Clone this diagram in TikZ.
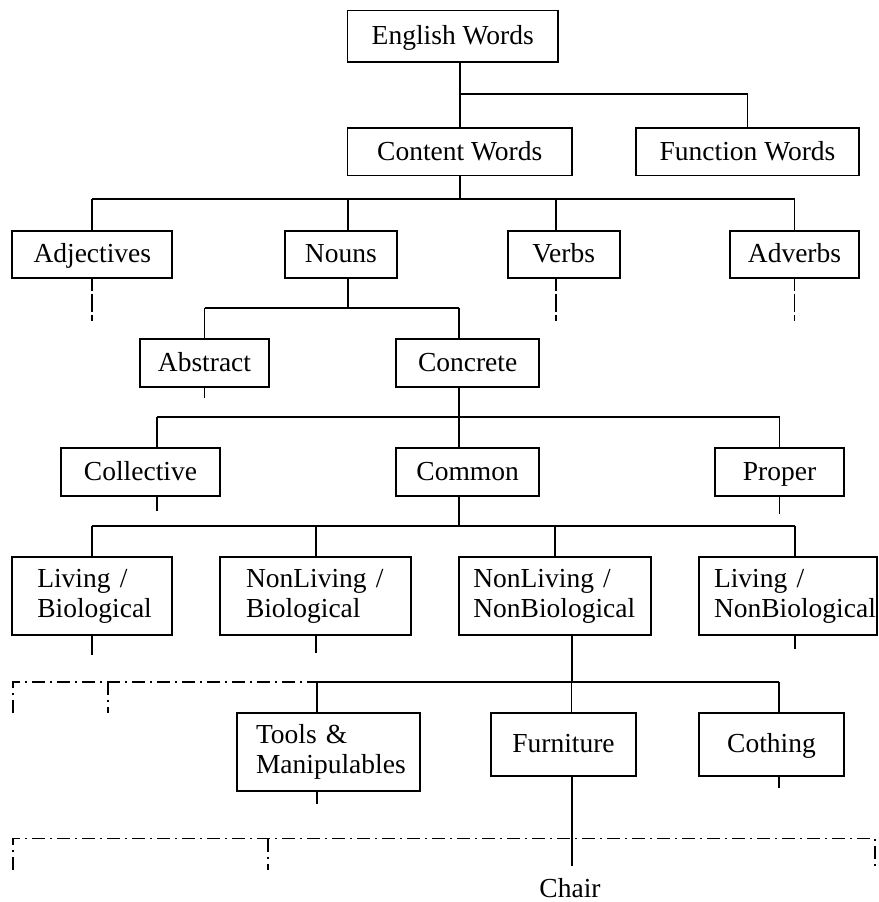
\documentclass[tikz,border=0pt]{standalone}
\usepackage{fontspec}
\setmainfont{Liberation Serif}
\hyphenpenalty=10000
\exhyphenpenalty=10000
\begin{document}
\begin{tikzpicture}[x=1pt,y=-1pt,
  conn/.style={line width=1.9pt,draw=black},
  thinconn/.style={line width=0.9pt,draw=black},
  dd/.style={conn,dash pattern=on 13pt off 5pt on 2pt off 5pt},
  dstub/.style={conn,dash pattern=on 12pt off 3pt on 18pt off 3pt on 8pt off 3pt},
  basebox/.style={draw=black,line width=1.8pt,inner sep=0pt,font=\fontsize{27.5}{30}\selectfont},
  box/.style={basebox,text height=19pt,text depth=2pt},
  box2/.style={basebox,align=left,inner ysep=0pt},
]
\useasboundingbox (0,0) rectangle (878,902);

% boxes
\node[box,minimum width=210.5pt,minimum height=51.5pt] (ew) at (452.75,36.25) {English Words};
\node[box,minimum width=224.5pt,minimum height=47.9pt] (cw) at (459.75,151.55) {Content Words};
\node[box,minimum width=223pt,minimum height=47.9pt] (fw) at (747.5,151.55) {Function Words};
\node[box,minimum width=160pt,minimum height=47pt] (adj) at (92.3,254.2) {Adjectives};
\node[box,minimum width=111.7pt,minimum height=47pt] (nouns) at (340.85,254.2) {Nouns};
\node[box,minimum width=112pt,minimum height=47pt] (verbs) at (563.7,254.2) {Verbs};
\node[box,minimum width=129pt,minimum height=47pt] (adv) at (794.5,254.2) {Adverbs};
\node[box,minimum width=128.4pt,minimum height=47.7pt] (abs) at (204.5,362.85) {Abstract};
\node[box,minimum width=143.3pt,minimum height=47.7pt] (conc) at (467.65,362.85) {Concrete};
\node[box,minimum width=159.6pt,minimum height=47.4pt] (coll) at (140.5,472) {Collective};
\node[box,minimum width=143.3pt,minimum height=47.4pt] (common) at (467.65,472) {Common};
\node[box,minimum width=128.4pt,minimum height=47.4pt] (proper) at (779.5,472) {Proper};
\node[box2,text width=110pt,inner xsep=25pt,minimum height=78.6pt] (lb) at (92.3,596) {Living /\\Biological};
\node[box2,text width=139.3pt,inner xsep=25.7pt,minimum height=78.6pt] (nlb) at (315.65,596) {NonLiving /\\Biological};
\node[box2,text width=163.4pt,inner xsep=14pt,minimum height=78.6pt] (nlnb) at (555,596) {NonLiving /\\NonBiological};
\node[box2,text width=148pt,inner xsep=14.7pt,minimum height=78.6pt] (lnb) at (788,596) {Living /\\NonBiological};
\node[box2,text width=145.3pt,inner xsep=18.7pt,minimum height=78.3pt] (tools) at (328.65,751.85) {Tools \&\\Manipulables};
\node[box,minimum width=145pt,minimum height=63.3pt] (furn) at (563.5,744.35) {Furniture};
\node[box,minimum width=145pt,minimum height=63.3pt] (cloth) at (771.5,744.35) {Cothing};
\node[inner sep=0pt,anchor=base,font=\fontsize{27.5}{30}\selectfont] (chair) at (570,897) {Chair};

% level 1
\coordinate (j1) at (459.75,93.7);
\draw[conn] (ew.south -| cw.north) -- (cw.north);
\draw[conn] (j1) -| (fw.north);

% level 2
\coordinate (j2) at (459.75,199.3);
\coordinate (kN) at (348.3,199.3);
\coordinate (kV) at (556,199.3);
\draw[conn] (cw.south) -- (j2);
\draw[conn] (adj.north |- j2) -- (adv.north |- j2);
\draw[conn] (adj.north |- j2) -- (adj.north);
\draw[conn] (kN) -- (kN |- nouns.north);
\draw[conn] (kV) -- (kV |- verbs.north);
\draw[conn] (adv.north |- j2) -- (adv.north);
\draw[dstub] (adj.south) -- ++(0,42.3);
\draw[dstub] (kV |- verbs.south) -- ++(0,42.3);
\draw[dstub] (adv.south) -- ++(0,42.3);

% nouns
\coordinate (j3) at (348.3,307.7);
\coordinate (kC) at (459.2,307.7);
\draw[conn] (kN |- nouns.south) -- (j3);
\draw[conn] (abs.north |- j3) -- (kC);
\draw[conn] (abs.north |- j3) -- (abs.north);
\draw[conn] (kC) -- (kC |- conc.north);
\draw[conn] (abs.south) -- ++(0,10.6);

% concrete
\coordinate (j4) at (459.2,417.3);
\coordinate (kCo) at (157,417.3);
\draw[conn] (j4 |- conc.south) -- (j4);
\draw[conn] (kCo) -- (proper.north |- j4);
\draw[conn] (kCo) -- (kCo |- coll.north);
\draw[conn] (j4) -- (j4 |- common.north);
\draw[conn] (proper.north |- j4) -- (proper.north);
\draw[conn] (kCo |- coll.south) -- ++(0,14.3);
\draw[conn] (proper.south) -- ++(0,17);

% common
\coordinate (j5) at (459.2,526);
\coordinate (kL) at (795.3,526);
\draw[conn] (j5 |- common.south) -- (j5);
\draw[conn] (lb.north |- j5) -- (kL);
\draw[conn] (lb.north |- j5) -- (lb.north);
\draw[conn] (nlb.north |- j5) -- (nlb.north);
\draw[conn] (nlnb.north |- j5) -- (nlnb.north);
\draw[conn] (kL) -- (kL |- lnb.north);
\draw[conn] (lb.south) -- ++(0,18.7);
\draw[conn] (nlb.south) -- ++(0,16.4);
\draw[conn] (kL |- lnb.south) -- ++(0,13);

% nonliving / nonbiological
\coordinate (j6) at (571.7,682.3);
\coordinate (kT) at (316.7,682.3);
\coordinate (kK) at (779.3,682.3);
\coordinate (d1) at (13.3,682.3);
\coordinate (d2) at (108.3,682.3);
\draw[conn] (j6 |- nlnb.south) -- (j6);
\draw[thinconn] (j6) -- (j6 |- furn.north);
\draw[conn] (kT) -- (kK);
\draw[conn] (kT) -- (kT |- tools.north);
\draw[conn] (kK) -- (kK |- cloth.north);
\draw[dd] (d1) ++(0,31) -- (d1) -- (kT);
\draw[dd] (d2) -- ++(0,31);
\draw[conn] (kT |- tools.south) -- ++(0,11.7);
\draw[conn] (kK |- cloth.south) -- ++(0,10.7);

% furniture
\coordinate (e1) at (13.3,838.5);
\coordinate (e2) at (268.3,838.5);
\coordinate (e3) at (875,838.5);
\draw[dd] (e1) ++(0,31) -- (e1) -- (e3) -- ++(0,31);
\draw[dd] (e2) -- ++(0,31);
\draw[conn,shorten >=11.5pt] (j6 |- furn.south) -- (j6 |- chair.north);
\end{tikzpicture}
\end{document}
